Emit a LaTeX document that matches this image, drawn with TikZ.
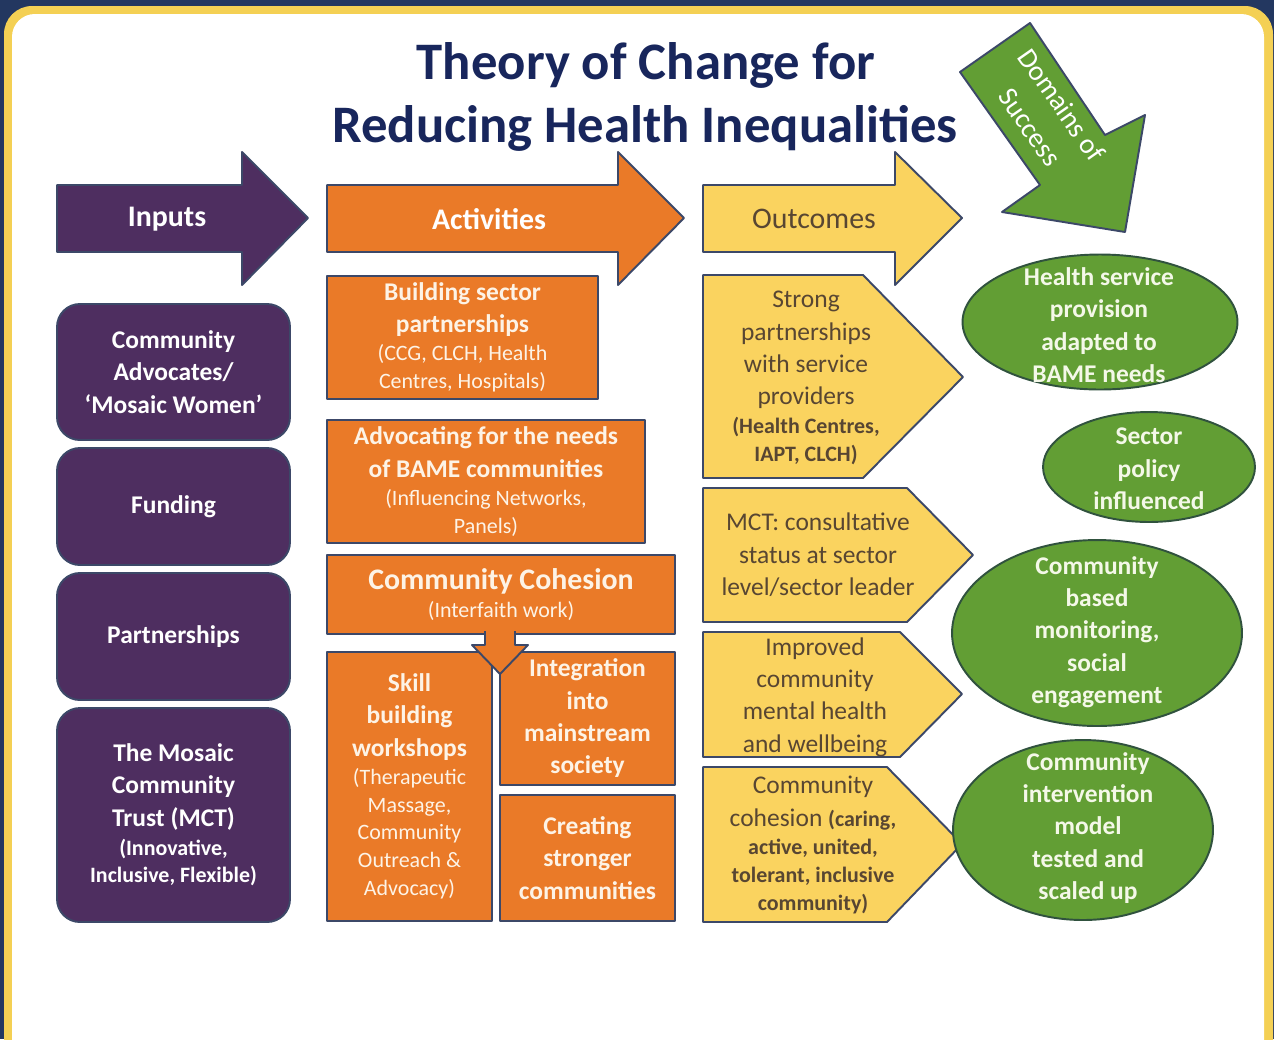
\documentclass[tikz,border=0pt]{standalone}
\usepackage{fontspec}
\setmainfont{Carlito}
\usetikzlibrary{shapes.geometric}

\definecolor{navybg}{RGB}{35,55,96}
\definecolor{frameyellow}{RGB}{244,208,84}
\definecolor{titlenavy}{RGB}{24,38,92}
\definecolor{edgeblue}{RGB}{60,72,104}
\definecolor{inpurple}{RGB}{78,46,96}
\definecolor{actorange}{RGB}{234,122,40}
\definecolor{actwhite}{RGB}{253,243,230}
\definecolor{outyellow}{RGB}{250,211,95}
\definecolor{outbrown}{RGB}{88,70,50}
\definecolor{goalgreen}{RGB}{98,158,52}
\definecolor{goaledge}{RGB}{48,82,62}
\definecolor{goalwhite}{RGB}{244,248,232}

\newcommand\boxfont{\fontsize{14.5}{18.4}\selectfont}
\newcommand\notefont{\fontsize{12.5}{15.9}\selectfont}

\begin{document}
\begin{tikzpicture}[x=0.02cm, y=-0.02cm, line join=round,
    edge/.style={draw=edgeblue, line width=1.1pt},
    inbox/.style={edge, fill=inpurple, rounded corners=13pt, text=white,
      align=center, font=\boxfont\bfseries, minimum width=4.66cm},
    actbox/.style={edge, fill=actorange, text=actwhite, align=center,
      font=\boxfont\bfseries, inner sep=0pt},
    outbox/.style={edge, fill=outyellow},
    outtext/.style={text=outbrown, align=center, font=\boxfont},
    goal/.style={ellipse, edge, draw=goaledge, fill=goalgreen, inner sep=0pt},
    goaltext/.style={text=goalwhite, align=center, font=\boxfont\bfseries},
    headtext/.style={font=\fontsize{17}{20}\selectfont},
    boldhead/.style={font=\fontsize{17}{20}\selectfont\bfseries}]
  \clip (0,0) rectangle (1274,1039);
  % frame
  \fill[navybg] (0,0) rectangle (1274,1039);
  \fill[frameyellow, rounded corners=16pt] (4,6) rectangle (1273,1080);
  \fill[white, rounded corners=13pt] (12,14) rectangle (1264,1080);

  % title
  \node[text=titlenavy, font=\fontsize{30}{36}\selectfont\bfseries] (title1) at (646,65) {Theory of Change for};
  \node[text=titlenavy, font=\fontsize{30}{36}\selectfont\bfseries] (title2) at (645,128) {Reducing Health Inequalities};

  % column heads
  \draw[edge, fill=inpurple] (57,185) -- (242,185) -- (242,152) -- (308,218)
    -- (242,285) -- (242,252) -- (57,252) -- cycle;
  \node[boldhead, text=white] (inputs) at (167,219) {Inputs};
  \draw[edge, fill=actorange] (327,185) -- (618,185) -- (618,152) -- (684,218)
    -- (618,285) -- (618,252) -- (327,252) -- cycle;
  \node[boldhead, text=white] (activities) at (489,219) {Activities};
  \draw[edge, fill=outyellow] (703,185) -- (895,185) -- (895,152) -- (962,218)
    -- (895,285) -- (895,252) -- (703,252) -- cycle;
  \node[headtext, text=outbrown] (outcomes) at (814,219) {Outcomes};
  \draw[edge, fill=goalgreen] (960,72) -- (1030,23) -- (1105,135) -- (1145,115)
    -- (1125,232) -- (1002,212) -- (1040,185) -- cycle;
  \node[font=\fontsize{16}{22}\selectfont, text=white, align=center, rotate=-55] (domains) at (1046,116) {Domains of\\Success};

  % inputs
  \node[inbox, minimum height=2.72cm] (in1) at (173.5,372) {Community\\Advocates/\\‘Mosaic Women’};
  \node[inbox, minimum height=2.34cm] (in2) at (173.5,506.5) {Funding};
  \node[inbox, minimum height=2.54cm] (in3) at (173.5,636.5) {Partnerships};
  \node[inbox, minimum height=4.28cm] (in4) at (173.5,815) {The Mosaic\\Community\\Trust (MCT)\\[-2pt]
    \notefont (Innovative,\\[-2.5pt]\notefont Inclusive, Flexible)};

  % activities
  \node[actbox, minimum width=5.42cm, minimum height=2.46cm] (act1) at (462.5,337.5)
    {Building sector\\partnerships\\[-2.5pt]\notefont\mdseries (CCG, CLCH, Health\\[-2.5pt]\notefont\mdseries Centres, Hospitals)};
  \node[actbox, minimum width=6.36cm, minimum height=2.46cm] (act2) at (486,481.5)
    {Advocating for the needs\\of BAME communities\\[-2.5pt]\notefont\mdseries (Influencing Networks,\\[-2.5pt]\notefont\mdseries Panels)};
  \node[actbox, minimum width=6.96cm, minimum height=1.58cm] (act3) at (501,594.5)
    {\fontsize{17}{20}\selectfont Community Cohesion\\[-2.5pt]\notefont\mdseries (Interfaith work)};
  \node[actbox, minimum width=3.3cm, minimum height=5.38cm] (act4) at (409.5,786.5)
    {Skill\\building\\workshops\\[-2.5pt]\notefont\mdseries (Therapeutic\\[-2.5pt]\notefont\mdseries Massage,\\[-2.5pt]\notefont\mdseries Community\\[-2.5pt]\notefont\mdseries Outreach \&\\[-2.5pt]\notefont\mdseries Advocacy)};
  \node[actbox, minimum width=3.5cm, minimum height=2.66cm] (act5) at (587.5,718.5)
    {Integration\\into\\mainstream\\society};
  \node[actbox, minimum width=3.5cm, minimum height=2.52cm] (act6) at (587.5,858)
    {Creating\\stronger\\communities};
  \filldraw[edge, fill=actorange] (485,631) -- (485,645) -- (472,645) -- (500,674)
    -- (528,645) -- (515,645) -- (515,631);

  % outcomes
  \draw[outbox] (703,275) -- (863,275) -- (963,377) -- (863,478) -- (703,478) -- cycle;
  \node[outtext] (out1) at (806,378) {Strong\\partnerships\\with service\\providers\\[-2pt]
    \notefont\bfseries (Health Centres,\\[-2.5pt]\notefont\bfseries IAPT, CLCH)};
  \draw[outbox] (703,488) -- (907,488) -- (973,555) -- (907,622) -- (703,622) -- cycle;
  \node[outtext] (out2) at (818,555) {MCT: consultative\\status at sector\\level/sector leader};
  \draw[outbox] (703,632) -- (900,632) -- (962,694) -- (900,757) -- (703,757) -- cycle;
  \node[outtext] (out3) at (815,697) {Improved\\community\\mental health\\and wellbeing};
  \draw[outbox] (703,767) -- (887,767) -- (962,844) -- (887,922) -- (703,922) -- cycle;
  \node[outtext] (out4) at (813,845) {Community\\cohesion {\notefont\bfseries (caring,}\\[-2.5pt]
    \notefont\bfseries active, united,\\[-2.5pt]\notefont\bfseries tolerant, inclusive\\[-2.5pt]\notefont\bfseries community)};

  % domains of success
  \node[goal, minimum width=5.5cm, minimum height=2.7cm] (goal1) at (1100,322) {};
  \node[goaltext] (goal1t) at (1099,325) {Health service\\provision\\adapted to\\BAME needs};
  \node[goal, minimum width=4.24cm, minimum height=2.2cm] (goal2) at (1149,467) {};
  \node[goaltext] (goal2t) at (1149,469) {Sector\\policy\\influenced};
  \node[goal, minimum width=5.8cm, minimum height=3.72cm] (goal3) at (1097,633) {};
  \node[goaltext] (goal3t) at (1097,632) {Community\\based\\monitoring,\\social\\engagement};
  \node[goal, minimum width=5.2cm, minimum height=3.6cm] (goal4) at (1083,830) {};
  \node[goaltext] (goal4t) at (1088,828) {Community\\intervention\\model\\tested and\\scaled up};
\end{tikzpicture}
\end{document}
